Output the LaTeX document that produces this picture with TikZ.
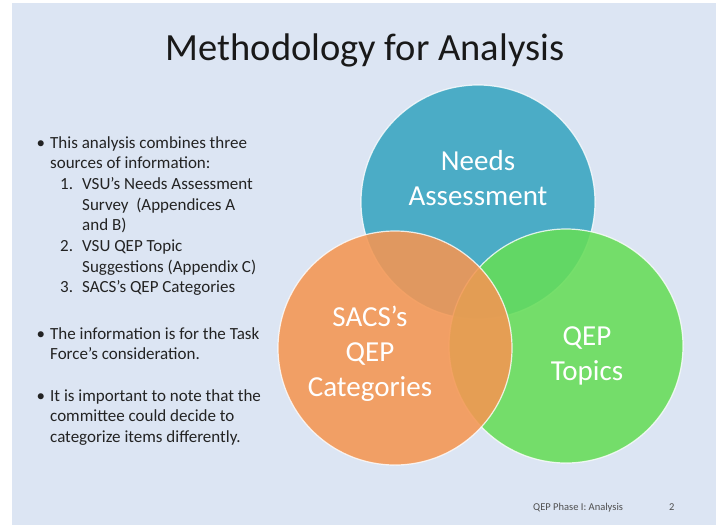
\documentclass[tikz,border=0pt]{standalone}
\usepackage{fontspec}
\setmainfont{Carlito}
\usepackage{xcolor}
\definecolor{slidebg}{RGB}{220,229,243}
\definecolor{needsblue}{RGB}{75,172,198}
\definecolor{qepgreen}{RGB}{102,221,88}
\definecolor{sacsorange}{RGB}{245,150,82}
\definecolor{bodygray}{RGB}{35,35,35}
\usetikzlibrary{positioning}
\newcommand{\bulletmark}{\llap{\textbullet\hspace{5pt}}}
\newcommand{\itemnum}[1]{\hspace*{10pt}\makebox[22pt][l]{#1}}
\newcommand{\itemhang}{\hspace*{32pt}}

\begin{document}
\begin{tikzpicture}[
    x=1pt, y=-1pt,
    % GLOBAL CFG
    font=\fontsize{17}{20.7}\selectfont,
    % Styles
    venn/.style={% For the three circles
        circle,
        draw=white,
        draw opacity=.8,
        line width=1.2pt,
        minimum size=234pt,
        inner sep=0pt,
        },
    vennlabel/.style={% White text inside circles
        text=white,
        align=center,
        inner sep=0pt,
        font=\fontsize{29}{35}\selectfont,
        },
    bodytext/.style={% Bullet paragraphs on the left
        anchor=north west,
        align=left,
        inner sep=0pt,
        text=bodygray,
        },
    footer/.style={% Small text at the bottom
        anchor=base west,
        inner sep=0pt,
        text=bodygray!80,
        font=\fontsize{10.5}{12}\selectfont,
        },
    ]

% Page and slide background
    \useasboundingbox (0,0) rectangle (720,525);
    \fill [white] (0,0) rectangle (720,525);
    \fill [slidebg] (12,3) rectangle (716,525);

% Title
    \node [anchor=base, inner sep=0pt, text=black!90, font=\fontsize{38.5}{46}\selectfont] (title) at (365,60) {Methodology for Analysis};

% Draw the circles (blue, green, orange on top)
    \node [venn, fill=needsblue] (needs) at (478,202) {};
    \node [venn, fill=qepgreen, fill opacity=.88] (topics) at (566,346) {};
    \node [venn, fill=sacsorange, fill opacity=.88] (sacs) at (395,348) {};

    % Circle labels
    \node [vennlabel] (needslbl) at ([yshift=24pt]needs.center) {Needs\\Assessment};
    \node [vennlabel] (sacslbl) at ([xshift=-25pt,yshift=-6pt]sacs.center) {SACS’s\\QEP\\Categories};
    \node [vennlabel] (topicslbl) at ([xshift=21pt,yshift=-10pt]topics.center) {QEP\\Topics};

% Bullets on the left
    \node [bodytext] (sources) at (50,136) {%
        \bulletmark This analysis combines three\\
        sources of information:\\
        \itemnum{1.}VSU’s Needs Assessment\\
        \itemhang Survey\ \ (Appendices A\\
        \itemhang and B)\\
        \itemnum{2.}VSU QEP Topic\\
        \itemhang Suggestions (Appendix C)\\
        \itemnum{3.}SACS’s QEP Categories};
    \node [bodytext] (purpose) at (50,327) {%
        \bulletmark The information is for the Task\\
        Force’s consideration.};
    \node [bodytext] (note) at (50,389) {%
        \bulletmark It is important to note that the\\
        committee could decide to\\
        categorize items differently.};

% Footer
    \node [footer] (phase) at (533,510) {QEP Phase I: Analysis};
    \node [footer] (pagenum) at (669,510) {2};

\end{tikzpicture}
\end{document}
